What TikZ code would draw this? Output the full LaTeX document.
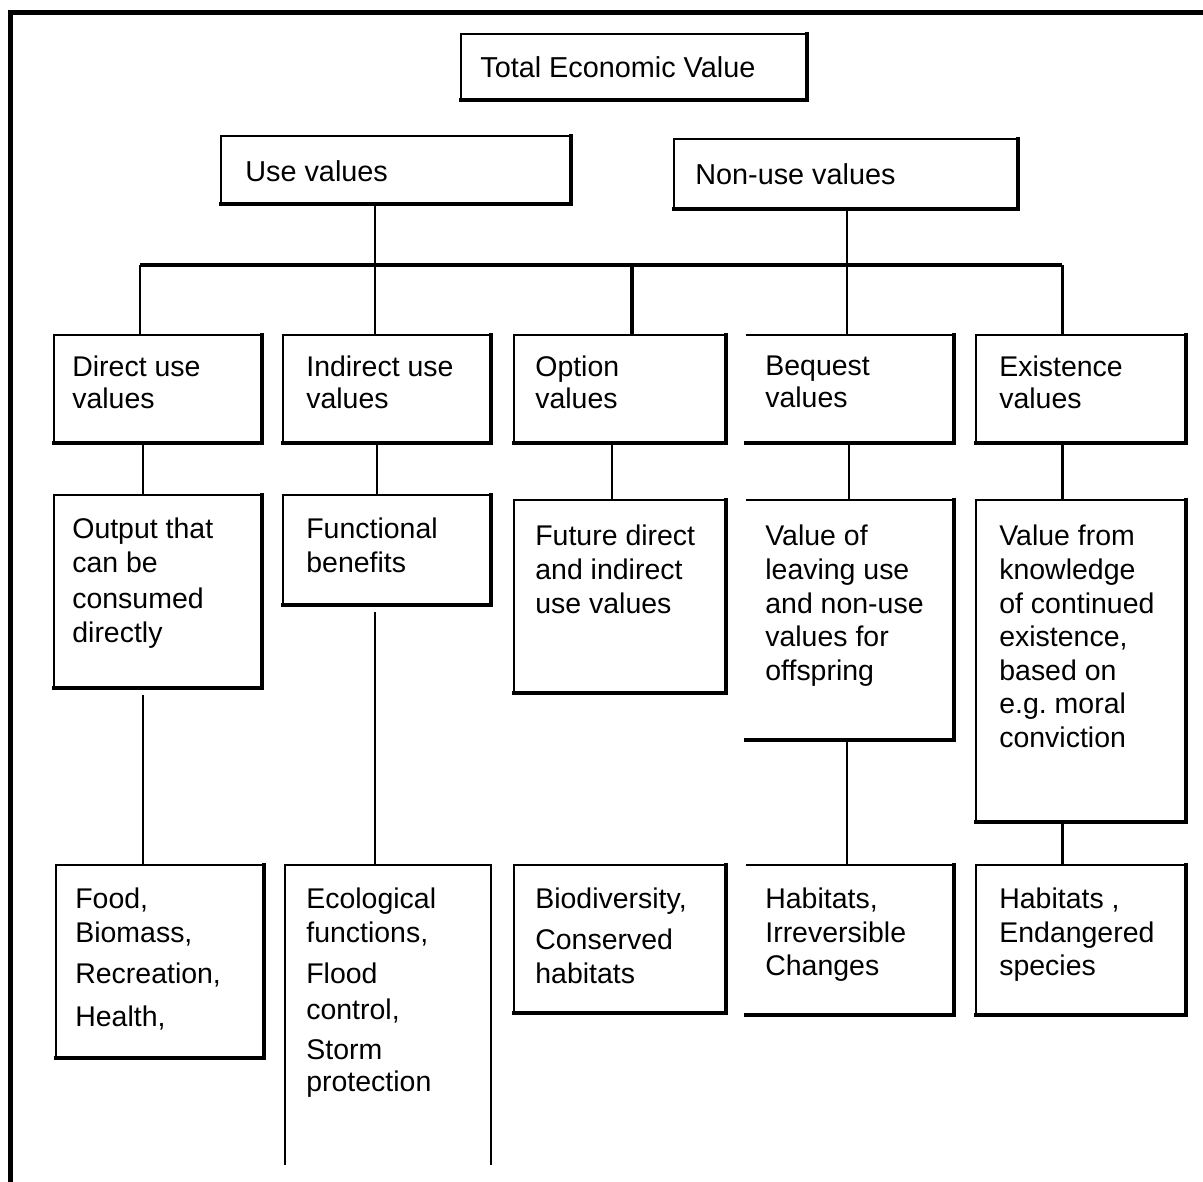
\documentclass[tikz,border=0pt]{standalone}
\usepackage{fontspec}
\setmainfont{Liberation Sans}
\usepackage{tikz}
\usetikzlibrary{positioning, calc}

\begin{document}
\begin{tikzpicture}[x=1cm, y=-1cm, font=\fontsize{16.4}{19}\selectfont,
    valbox/.style={draw, line width=1.2pt, outer sep=0pt, inner sep=0pt, anchor=north west},
    openbox/.style={outer sep=0pt, inner sep=0pt, anchor=north west},
    toplbl/.style={anchor=west, inner sep=0pt},
    rowAlbl/.style={anchor=north west, inner sep=0pt, align=left, font=\fontsize{16.2}{17.9}\selectfont},
    rowBlbl/.style={rowAlbl, font=\fontsize{16.2}{19.1}\selectfont},
    rowClbl/.style={rowAlbl, font=\fontsize{16.2}{18.8}\selectfont},
    valline/.style={line width=1.7pt},
    valedge/.style={line width=2.6pt, line cap=rect},
    sideedge/.style={line width=1.9pt, line cap=rect}]
\useasboundingbox (0,0) rectangle (24.06,23.64);

% outer frame
\draw[line width=2.8pt] (24.06,0.25) -- (0.21,0.25) -- (0.21,23.64);

% top levels
\node[valbox, minimum width=6.92cm, minimum height=1.32cm] (tev) at (9.22,0.68) {};
\node[valbox, minimum width=7.00cm, minimum height=1.36cm] (use) at (4.42,2.72) {};
\node[valbox, minimum width=6.88cm, minimum height=1.40cm] (nonuse) at (13.48,2.78) {};
\node[toplbl] (tevtxt) at ([xshift=0.38cm]tev.west) {Total Economic Value};
\node[toplbl] (usetxt) at ([xshift=0.48cm, yshift=-0.02cm]use.west) {Use values};
\node[toplbl] (nonusetxt) at ([xshift=0.42cm]nonuse.west) {Non-use values};

% value types
\node[valbox, minimum width=4.16cm, minimum height=2.16cm] (dir1) at (1.08,6.70) {};
\node[valbox, minimum width=4.16cm, minimum height=2.16cm] (ind1) at (5.66,6.70) {};
\node[valbox, minimum width=4.24cm, minimum height=2.16cm] (opt1) at (10.28,6.70) {};
\node[openbox, minimum width=4.16cm, minimum height=2.16cm] (beq1) at (14.92,6.70) {};
\node[valbox, minimum width=4.20cm, minimum height=2.16cm] (exi1) at (19.52,6.70) {};
\node[rowAlbl] (dir1txt) at ([xshift=0.36cm, yshift=-0.42cm]dir1.north west) {Direct use\\values};
\node[rowAlbl] (ind1txt) at ([xshift=0.46cm, yshift=-0.42cm]ind1.north west) {Indirect use\\values};
\node[rowAlbl] (opt1txt) at ([xshift=0.42cm, yshift=-0.42cm]opt1.north west) {Option\\values};
\node[rowAlbl] (beq1txt) at ([xshift=0.38cm, yshift=-0.42cm]beq1.north west) {Bequest\\values};
\node[rowAlbl] (exi1txt) at ([xshift=0.46cm, yshift=-0.42cm]exi1.north west) {Existence\\values};

% descriptions
\node[valbox, minimum width=4.16cm, minimum height=3.86cm] (dir2) at (1.08,9.90) {};
\node[valbox, minimum width=4.16cm, minimum height=2.20cm] (ind2) at (5.66,9.90) {};
\node[valbox, minimum width=4.24cm, minimum height=3.86cm] (opt2) at (10.28,10.00) {};
\node[openbox, minimum width=4.16cm, minimum height=4.80cm] (beq2) at (14.92,10.00) {};
\node[valbox, minimum width=4.20cm, minimum height=6.44cm] (exi2) at (19.52,10.00) {};
\node[rowBlbl] (dir2txt) at ([xshift=0.36cm, yshift=-0.46cm]dir2.north west) {Output that\\can be\\[1.5pt]consumed\\directly};
\node[rowBlbl] (ind2txt) at ([xshift=0.46cm, yshift=-0.46cm]ind2.north west) {Functional\\benefits};
\node[rowBlbl] (opt2txt) at ([xshift=0.42cm, yshift=-0.50cm]opt2.north west) {Future direct\\and indirect\\use values};
\node[rowBlbl] (beq2txt) at ([xshift=0.38cm, yshift=-0.50cm]beq2.north west) {Value of\\leaving use\\and non-use\\values for\\offspring};
\node[rowBlbl] (exi2txt) at ([xshift=0.46cm, yshift=-0.50cm]exi2.north west) {Value from\\knowledge\\of continued\\existence,\\based on\\e.g.\ moral\\conviction};

% examples
\node[valbox, minimum width=4.16cm, minimum height=3.86cm] (dir3) at (1.12,17.30) {};
\node[openbox, minimum width=4.12cm, minimum height=6.00cm] (ind3) at (5.70,17.30) {};
\node[valbox, minimum width=4.24cm, minimum height=2.96cm] (opt3) at (10.28,17.30) {};
\node[openbox, minimum width=4.16cm, minimum height=3.00cm] (beq3) at (14.92,17.30) {};
\node[valbox, minimum width=4.20cm, minimum height=3.00cm] (exi3) at (19.52,17.30) {};
\node[rowClbl] (dir3txt) at ([xshift=0.38cm, yshift=-0.46cm]dir3.north west) {Food,\\Biomass,\\[5pt]Recreation,\\[5.5pt]Health,};
\node[rowClbl] (ind3txt) at ([xshift=0.42cm, yshift=-0.46cm]ind3.north west) {Ecological\\functions,\\[5pt]Flood\\[1.6pt]control,\\[4pt]Storm\\[-0.6pt]protection};
\node[rowClbl] (opt3txt) at ([xshift=0.42cm, yshift=-0.46cm]opt3.north west) {Biodiversity,\\[4.4pt]Conserved\\[0.5pt]habitats};
\node[rowClbl] (beq3txt) at ([xshift=0.38cm, yshift=-0.46cm]beq3.north west) {Habitats,\\Irreversible\\Changes};
\node[rowClbl] (exi3txt) at ([xshift=0.46cm, yshift=-0.46cm]exi3.north west) {Habitats ,\\Endangered\\species};

% heavier bottom and right edges
\foreach \b in {tev,use,nonuse,dir1,ind1,opt1,beq1,exi1,dir2,ind2,opt2,beq2,exi2,dir3,opt3,beq3,exi3} {
  \draw[valedge] (\b.south west) -- (\b.south east);
  \draw[sideedge] (\b.south east) -- (\b.north east);
}
\foreach \b in {beq1,beq2,beq3}
  \draw[line width=1.2pt] (\b.north west) -- (\b.north east);
\draw[line width=0.8pt] (ind3.south west) -- (ind3.north west) -- (ind3.north east) -- (ind3.south east);

% branching bar
\coordinate (jDir) at (2.80,5.30);
\coordinate (jInd) at (7.50,5.30);
\coordinate (jOpt) at (12.64,5.30);
\coordinate (jBeq) at (16.94,5.30);
\coordinate (jExi) at (21.24,5.30);
\draw[line width=2.8pt] (jDir) -- (jExi);
\draw[valline] (use.south -| jInd) -- (ind1.north -| jInd);
\draw[valline] (nonuse.south -| jBeq) -- (beq1.north -| jBeq);
\draw[valline] (jDir) -- (dir1.north -| jDir);
\draw[valline, line width=2.4pt] (jOpt) -- (opt1.north -| jOpt);
\draw[valline] (jExi) -- (exi1.north -| jExi);

% columns
\draw[valline] ([xshift=-0.30cm]dir1.south) -- ([xshift=-0.30cm]dir1.south |- dir2.north);
\draw[valline] ([xshift=-0.20cm]ind1.south) -- ([xshift=-0.20cm]ind1.south |- ind2.north);
\draw[valline] ([xshift=-0.16cm]opt1.south) -- ([xshift=-0.16cm]opt1.south |- opt2.north);
\draw[valline] ([xshift=-0.02cm]beq1.south) -- ([xshift=-0.02cm]beq1.south |- beq2.north);
\draw[valline] ([xshift=-0.38cm]exi1.south) -- ([xshift=-0.38cm]exi1.south |- exi2.north);
\draw[valline, shorten <=0.14cm] ([xshift=-0.30cm]dir2.south) -- ([xshift=-0.30cm]dir2.south |- dir3.north);
\draw[valline, shorten <=0.14cm] ([xshift=-0.24cm]ind2.south) -- ([xshift=-0.24cm]ind2.south |- ind3.north);
\draw[valline] ([xshift=-0.06cm]beq2.south) -- ([xshift=-0.06cm]beq2.south |- beq3.north);
\draw[valline] ([xshift=-0.38cm]exi2.south) -- ([xshift=-0.38cm]exi2.south |- exi3.north);
\end{tikzpicture}
\end{document}
